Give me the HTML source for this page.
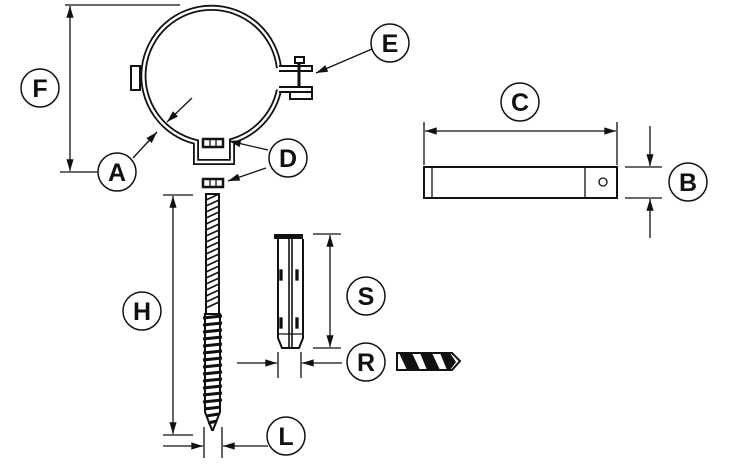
<!DOCTYPE html>
<html><head><style>body{margin:0;background:#fff}svg{display:block}text{font-family:"Liberation Sans",sans-serif;font-weight:bold;font-size:25px;text-anchor:middle}</style></head><body>
<svg width="752" height="465" viewBox="0 0 752 465" xmlns="http://www.w3.org/2000/svg">
<defs><marker id="a" viewBox="0 0 13 10" refX="13" refY="5" markerWidth="13" markerHeight="9" orient="auto-start-reverse" markerUnits="userSpaceOnUse"><path d="M0,1 L13,5 L0,9z" fill="#111"/></marker></defs>
<g stroke="#111" fill="none" stroke-width="1.3">
<!-- F -->
<line x1="65" y1="5" x2="180" y2="5"/><line x1="60" y1="172" x2="100" y2="172"/>
<line x1="70" y1="6" x2="70" y2="171" marker-start="url(#a)" marker-end="url(#a)"/>
<!-- clamp ring -->
<path d="M279,90 A68,68 0 0 1 232,141 L232,162 L196,162 L196,142 A68,68 0 1 1 279,68" stroke-width="6" stroke="#111"/>
<path d="M279,90 A68,68 0 0 1 232,141 L232,162 L196,162 L196,142 A68,68 0 1 1 279,68" stroke-width="2.4" stroke="#fff"/>
<rect x="131" y="66" width="9" height="24" fill="#fff" stroke-width="2"/>
<path d="M279,66 L312,66 L312,71 L279,71" stroke-width="2" fill="#fff"/>
<path d="M279,87 L312,87 L312,92 L279,92" stroke-width="2" fill="#fff"/>
<rect x="290" y="92" width="22" height="7" fill="#fff" stroke-width="2"/>
<rect x="295" y="57" width="9" height="6" stroke-width="2"/>
<line x1="299" y1="63" x2="299" y2="87" stroke-width="3"/>
<!-- nuts -->
<rect x="203" y="139" width="20" height="8" stroke-width="2.5" fill="#fff"/><line x1="210" y1="139" x2="210" y2="147"/><line x1="216" y1="139" x2="216" y2="147"/>
<rect x="203" y="179" width="20" height="8" stroke-width="2.5"/><line x1="210" y1="179" x2="210" y2="187"/><line x1="216" y1="179" x2="216" y2="187"/>
<!-- A arrows -->
<line x1="192" y1="98" x2="167" y2="122" marker-end="url(#a)"/>
<line x1="133" y1="158" x2="157" y2="132" marker-end="url(#a)"/>
<!-- E arrow --><line x1="372" y1="49" x2="316" y2="73" marker-end="url(#a)"/>
<!-- D arrows --><line x1="268" y1="150" x2="229" y2="141" marker-end="url(#a)"/>
<line x1="266" y1="168" x2="228" y2="181" marker-end="url(#a)"/>
<!-- screw -->
<rect x="206" y="194" width="13" height="120" stroke-width="2"/>
<path d="M206,200 L219,194 M206,206 L219,200 M206,212 L219,206 M206,218 L219,212 M206,224 L219,218 M206,230 L219,224 M206,236 L219,230 M206,242 L219,236 M206,248 L219,242 M206,254 L219,248 M206,260 L219,254 M206,266 L219,260 M206,272 L219,266 M206,278 L219,272 M206,284 L219,278 M206,290 L219,284 M206,296 L219,290 M206,302 L219,296 M206,308 L219,302" stroke-width="1.6"/>
<path d="M205,314 L220,314 L220,412 L213,430 L212,430 L205,412Z" fill="#fff" stroke-width="2"/>
<path d="M203,318 L222,316 M203,325 L222,323 M203,332 L222,330 M203,339 L222,337 M203,346 L222,344 M203,353 L222,351 M203,360 L222,358 M203,367 L222,365 M203,374 L222,372 M203,381 L222,379 M203,388 L222,386 M203,395 L222,393 M203,402 L222,400 M204,409 L221,407 M206,416 L219,414 M208,423 L217,421" stroke-width="3"/>
<!-- H -->
<line x1="163" y1="195" x2="193" y2="195"/><line x1="163" y1="435" x2="193" y2="435"/>
<line x1="173" y1="196" x2="173" y2="434" marker-start="url(#a)" marker-end="url(#a)"/>
<!-- L -->
<line x1="204" y1="427" x2="204" y2="458"/><line x1="222" y1="427" x2="222" y2="458"/>
<line x1="163" y1="446" x2="203" y2="446" marker-end="url(#a)"/>
<line x1="268" y1="446" x2="223" y2="446" marker-end="url(#a)"/>
<!-- anchor -->
<rect x="274" y="234" width="29" height="5" fill="#111" stroke="none"/>
<path d="M278,239 L278,338 L282,348 L299,348 L303,338 L303,239" stroke-width="2"/>
<line x1="289" y1="239" x2="289" y2="348" stroke-width="1.6"/><line x1="292" y1="239" x2="292" y2="348" stroke-width="1.6"/>
<line x1="278" y1="334" x2="303" y2="334"/>
<rect x="280" y="270" width="2" height="10" fill="#111"/><rect x="296" y="270" width="2" height="10" fill="#111"/>
<rect x="280" y="318" width="2" height="10" fill="#111"/><rect x="296" y="318" width="2" height="10" fill="#111"/>
<!-- S -->
<line x1="313" y1="234" x2="341" y2="234"/><line x1="313" y1="348" x2="341" y2="348"/>
<line x1="330" y1="235" x2="330" y2="347" marker-start="url(#a)" marker-end="url(#a)"/>
<!-- R -->
<line x1="278" y1="352" x2="278" y2="378"/><line x1="301" y1="352" x2="301" y2="378"/>
<line x1="237" y1="363" x2="277" y2="363" marker-end="url(#a)"/>
<line x1="342" y1="363" x2="302" y2="363" marker-end="url(#a)"/>
<!-- drill -->
<path d="M397,353 L452,353 L460,361 L452,370 L397,370Z" stroke-width="2"/>
<path d="M399,353 L412,353 L420,370 L407,370Z M420,353 L432,353 L440,370 L427,370Z M440,353 L450,353 L456,362 L450,370 L447,370Z" fill="#111" stroke="none"/>
<!-- bar -->
<rect x="424" y="167" width="193" height="31" stroke-width="2"/>
<line x1="432" y1="167" x2="432" y2="198"/><line x1="585" y1="167" x2="585" y2="198"/>
<circle cx="603" cy="182" r="4"/>
<!-- C -->
<line x1="424" y1="122" x2="424" y2="165"/><line x1="617" y1="122" x2="617" y2="165"/>
<line x1="425" y1="131" x2="616" y2="131" marker-start="url(#a)" marker-end="url(#a)"/>
<!-- B -->
<line x1="625" y1="167" x2="662" y2="167"/><line x1="625" y1="198" x2="662" y2="198"/>
<line x1="650" y1="126" x2="650" y2="166" marker-end="url(#a)"/>
<line x1="650" y1="238" x2="650" y2="199" marker-end="url(#a)"/>
<!-- label circles -->
<g stroke-width="1.5" fill="#fff">
<circle cx="40" cy="88" r="19"/><circle cx="117" cy="172" r="19"/><circle cx="390" cy="43" r="19"/>
<circle cx="288" cy="158" r="19"/><circle cx="520" cy="102" r="19"/><circle cx="688" cy="182" r="19"/>
<circle cx="142" cy="311" r="19"/><circle cx="366" cy="296" r="19"/><circle cx="366" cy="362" r="19"/>
<circle cx="286" cy="436" r="19"/></g>
</g>
<g fill="#111">
<text x="40" y="97">F</text><text x="117" y="181">A</text><text x="390" y="52">E</text>
<text x="288" y="167">D</text><text x="520" y="111">C</text><text x="688" y="191">B</text>
<text x="142" y="320">H</text><text x="366" y="305">S</text><text x="366" y="371">R</text>
<text x="286" y="445">L</text>
</g>
</svg>
</body></html>
